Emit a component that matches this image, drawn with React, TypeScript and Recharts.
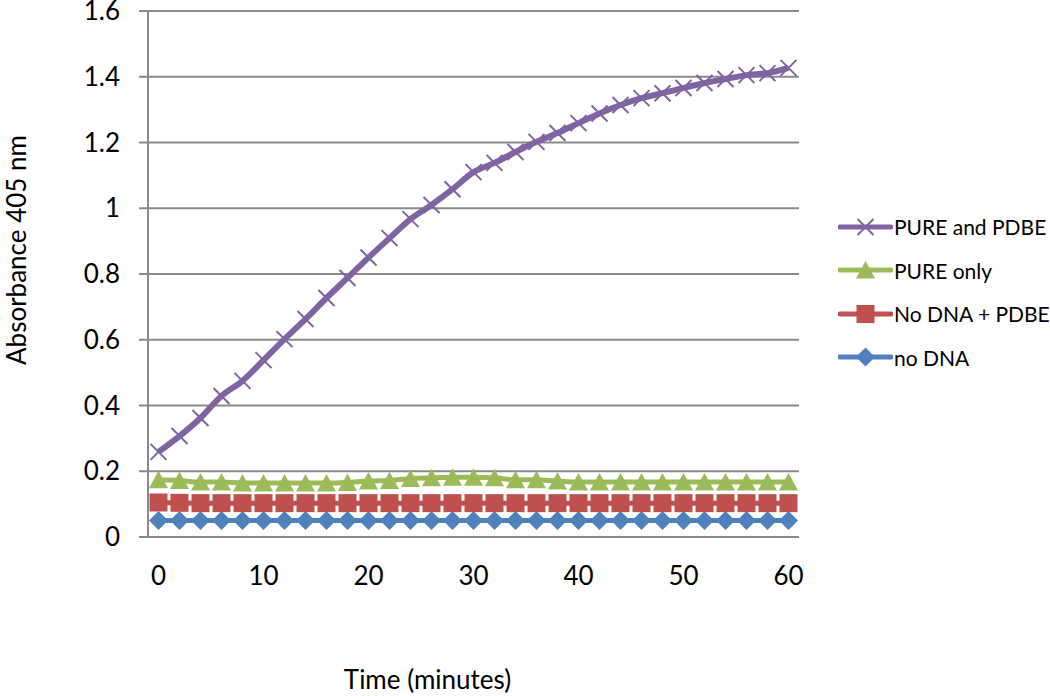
import React from 'react';
import { LineChart, Line, XAxis, YAxis, CartesianGrid, Legend } from 'recharts';

// sampling times (minutes)
const times = [0, 2, 4, 6, 8, 10, 12, 14, 16, 18, 20, 22, 24, 26, 28, 30, 32, 34, 36, 38, 40, 42, 44, 46, 48, 50, 52, 54, 56, 58, 60];

// absorbance at 405 nm per series
const pureAndPdbe = [0.259, 0.307, 0.362, 0.429, 0.475, 0.538, 0.602, 0.663, 0.727, 0.788, 0.85, 0.909, 0.967, 1.01, 1.058, 1.11, 1.138, 1.171, 1.202, 1.229, 1.259, 1.288, 1.314, 1.335, 1.35, 1.366, 1.381, 1.393, 1.405, 1.411, 1.427];
const pureOnly = [0.174, 0.172, 0.167, 0.167, 0.164, 0.164, 0.164, 0.164, 0.164, 0.166, 0.17, 0.172, 0.178, 0.18, 0.182, 0.182, 0.18, 0.174, 0.174, 0.17, 0.167, 0.167, 0.167, 0.167, 0.167, 0.167, 0.167, 0.167, 0.167, 0.167, 0.167];
const noDnaPdbe = [0.105, 0.104, 0.103, 0.103, 0.103, 0.103, 0.103, 0.103, 0.103, 0.103, 0.103, 0.103, 0.103, 0.103, 0.103, 0.103, 0.103, 0.103, 0.103, 0.103, 0.103, 0.103, 0.103, 0.103, 0.103, 0.103, 0.103, 0.103, 0.103, 0.103, 0.103];
const noDna = [0.05, 0.05, 0.05, 0.05, 0.05, 0.05, 0.05, 0.05, 0.05, 0.05, 0.05, 0.05, 0.05, 0.05, 0.05, 0.05, 0.05, 0.05, 0.05, 0.05, 0.05, 0.05, 0.05, 0.05, 0.05, 0.05, 0.05, 0.05, 0.05, 0.05, 0.05];

const yTicks = [0, 0.2, 0.4, 0.6, 0.8, 1, 1.2, 1.4, 1.6];
const xLabelTicks = [0, 10, 20, 30, 40, 50, 60];
// category boundaries (tick marks sit between the points, like Excel)
const xBoundaryTicks = [-1, 1, 3, 5, 7, 9, 11, 13, 15, 17, 19, 21, 23, 25, 27, 29, 31, 33, 35, 37, 39, 41, 43, 45, 47, 49, 51, 53, 55, 57, 59, 61];

const data = times.map((t, i) => ({
  time: t,
  noDna: noDna[i],
  noDnaPdbe: noDnaPdbe[i],
  pureOnly: pureOnly[i],
  pureAndPdbe: pureAndPdbe[i],
}));

const FONT = 'Lato, "Open Sans", sans-serif';
const GRID = '#8a8a8a';

type Shape = 'cross' | 'triangle' | 'square' | 'diamond';

const series: { key: string; name: string; color: string; shape: Shape; width: number }[] = [
  { key: 'noDna', name: 'no DNA', color: '#4F81BD', shape: 'diamond', width: 5 },
  { key: 'noDnaPdbe', name: 'No DNA + PDBE', color: '#C0504D', shape: 'square', width: 5 },
  { key: 'pureOnly', name: 'PURE only', color: '#9BBB59', shape: 'triangle', width: 5 },
  { key: 'pureAndPdbe', name: 'PURE and PDBE', color: '#8064A2', shape: 'cross', width: 6 },
];

const Marker = ({ cx, cy, color, shape }: { cx: number; cy: number; color: string; shape: Shape }) => {
  if (cx == null || cy == null) return null;
  switch (shape) {
    case 'cross':
      return (
        <path
          d={`M${cx - 8},${cy - 8}L${cx + 8},${cy + 8}M${cx - 8},${cy + 8}L${cx + 8},${cy - 8}`}
          stroke={color}
          strokeWidth={2}
          fill="none"
        />
      );
    case 'triangle':
      return <path d={`M${cx},${cy - 9}L${cx + 9.5},${cy + 8.5}L${cx - 9.5},${cy + 8.5}Z`} fill={color} />;
    case 'square':
      return <rect x={cx - 9} y={cy - 9} width={18} height={18} fill={color} />;
    default:
      return <path d={`M${cx},${cy - 9.5}L${cx + 9.5},${cy}L${cx},${cy + 9.5}L${cx - 9.5},${cy}Z`} fill={color} />;
  }
};

const renderLegend = () => (
  <div style={{ fontFamily: FONT, fontSize: 21, color: '#000' }}>
    {[...series].reverse().map((s) => (
      <div key={s.key} style={{ display: 'flex', alignItems: 'center', height: 43.5 }}>
        <svg width={55} height={22} style={{ flex: 'none' }}>
          <line x1={2} y1={11} x2={53} y2={11} stroke={s.color} strokeWidth={5} strokeLinecap="round" />
          <Marker cx={27.5} cy={11} color={s.color} shape={s.shape} />
        </svg>
        <span style={{ marginLeft: 1, whiteSpace: 'nowrap' }}>{s.name}</span>
      </div>
    ))}
  </div>
);

export default function App() {
  return (
    <div style={{ position: 'absolute', left: 0, top: 0, width: 1050, height: 696, background: '#fff' }}>
      <LineChart width={1050} height={696} data={data} margin={{ top: 11, right: 39, bottom: 0, left: 0 }}>
        <CartesianGrid vertical={false} stroke={GRID} strokeWidth={2} />
        <XAxis
          dataKey="time"
          type="number"
          domain={[-1, 61]}
          ticks={xBoundaryTicks}
          interval={0}
          tick={false}
          tickSize={9}
          height={1}
          axisLine={{ stroke: GRID, strokeWidth: 2 }}
          tickLine={{ stroke: GRID, strokeWidth: 2 }}
        />
        <XAxis
          xAxisId="lbl"
          dataKey="time"
          type="number"
          domain={[-1, 61]}
          ticks={xLabelTicks}
          interval={0}
          height={158}
          axisLine={false}
          tickLine={false}
          tickSize={0}
          tickMargin={29}
          tick={{ fill: '#000', fontSize: 26, fontFamily: FONT }}
          label={{
            value: 'Time (minutes)',
            position: 'insideBottom',
            offset: 7,
            dx: -46,
            fill: '#000',
            fontSize: 26,
            fontFamily: FONT,
          }}
        />
        <YAxis
          domain={[0, 1.6]}
          ticks={yTicks}
          interval={0}
          width={148}
          tickSize={9}
          tickMargin={19}
          axisLine={{ stroke: GRID, strokeWidth: 2 }}
          tickLine={{ stroke: GRID, strokeWidth: 2 }}
          tick={{ fill: '#000', fontSize: 26, fontFamily: FONT }}
          label={{
            value: 'Absorbance 405 nm',
            angle: -90,
            position: 'insideLeft',
            offset: 17,
            dy: -24,
            fill: '#000',
            fontSize: 26,
            fontFamily: FONT,
            style: { textAnchor: 'middle' },
          }}
        />
        <Legend
          layout="vertical"
          align="right"
          verticalAlign="top"
          content={renderLegend}
          wrapperStyle={{ left: 838, top: 205, width: 212 }}
        />
        {series.map((s) => (
          <Line
            key={s.key}
            dataKey={s.key}
            name={s.name}
            type="monotone"
            stroke={s.color}
            strokeWidth={s.width}
            isAnimationActive={false}
            dot={(p: any) => <Marker key={`${s.key}-${p.index}`} cx={p.cx} cy={p.cy} color={s.color} shape={s.shape} />}
            activeDot={false}
          />
        ))}
      </LineChart>
    </div>
  );
}
